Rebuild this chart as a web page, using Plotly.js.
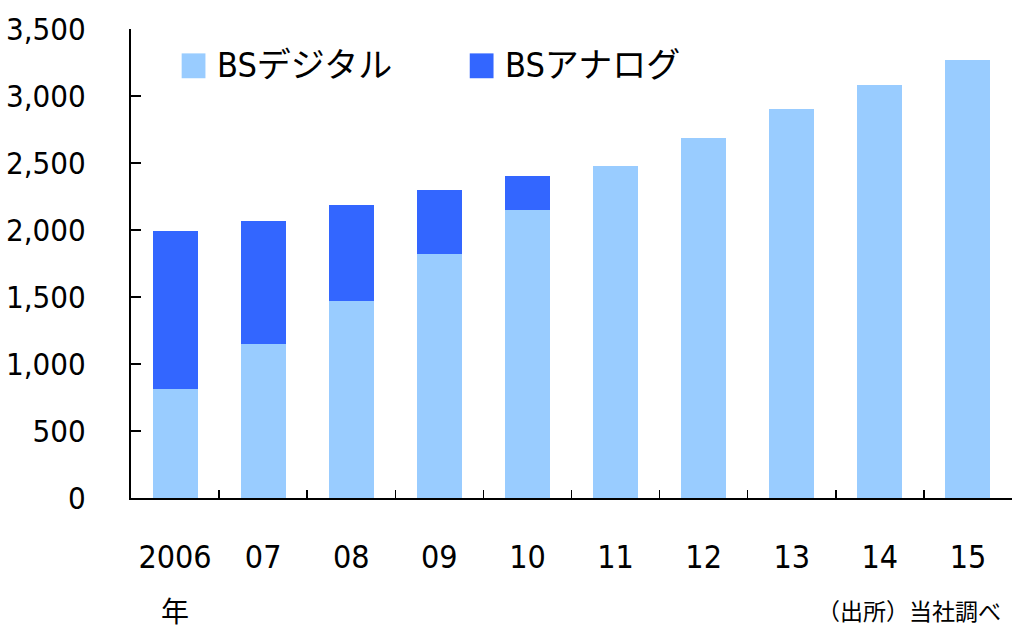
<!DOCTYPE html>
<html>
<head>
<meta charset="utf-8">
<script src="https://cdn.plot.ly/plotly-3.0.1.min.js"></script>
<style>html,body{margin:0;padding:0;background:#fff;}#chart{width:1012px;height:628px;}</style>
</head>
<body>
<div id="chart"></div>
<script>
const years = ["2006", "07", "08", "09", "10", "11", "12", "13", "14", "15"];
const bsDigital = [810, 1150, 1470, 1820, 2150, 2480, 2690, 2900, 3080, 3270];
const bsAnalog = [1180, 920, 720, 480, 250, 0, 0, 0, 0, 0];
const seriesNames = ["BSデジタル", "BSアナログ"];
const yTicks = [0, 500, 1000, 1500, 2000, 2500, 3000, 3500];

const FONT = '"DejaVu Sans Condensed", "DejaVu Sans", "Noto Sans CJK JP", sans-serif';
const LIGHT = '#99ccff', DARK = '#3366ff';

const traces = [
  {type: 'bar', name: seriesNames[0], x: years, y: bsDigital, marker: {color: LIGHT}, hoverinfo: 'x+y+name'},
  {type: 'bar', name: seriesNames[1], x: years, y: bsAnalog, marker: {color: DARK}, hoverinfo: 'x+y+name'}
];

const layout = {
  width: 1012, height: 628,
  margin: {l: 131, r: 0, t: 29, b: 130},
  barmode: 'stack', bargap: 0.49,
  showlegend: false,
  paper_bgcolor: '#fff', plot_bgcolor: '#fff',
  font: {family: FONT, color: '#000', size: 30},
  xaxis: {
    type: 'category', showline: true, linecolor: '#000', linewidth: 2,
    ticks: 'inside', ticklen: 8, tickwidth: 1.5, tickcolor: '#000', tickson: 'boundaries',
    showgrid: false, zeroline: false,
    tickfont: {family: FONT, size: 32, color: '#000'},
    ticklabelstandoff: 30
  },
  yaxis: {
    range: [0, 3500], tickvals: yTicks, tickformat: ',',
    showline: true, linecolor: '#000', linewidth: 2,
    ticks: 'inside', ticklen: 10, tickwidth: 2, tickcolor: '#000',
    showgrid: false, zeroline: false,
    tickfont: {family: FONT, size: 31, color: '#000'},
    ticklabelstandoff: 37
  },
  shapes: [
    {type: 'rect', xref: 'paper', yref: 'paper', x0: 0.0575, x1: 0.0845, y0: 0.895, y1: 0.948, fillcolor: LIGHT, line: {width: 0}},
    {type: 'rect', xref: 'paper', yref: 'paper', x0: 0.3845, x1: 0.4115, y0: 0.895, y1: 0.948, fillcolor: DARK, line: {width: 0}}
  ],
  annotations: [
    {xref: 'paper', yref: 'paper', x: 0.095, y: 0.924, xanchor: 'left', yanchor: 'middle', text: seriesNames[0], showarrow: false, font: {family: FONT, size: 34, color: '#000'}},
    {xref: 'paper', yref: 'paper', x: 0.422, y: 0.924, xanchor: 'left', yanchor: 'middle', text: seriesNames[1], showarrow: false, font: {family: FONT, size: 34, color: '#000'}},
    {xref: 'paper', yref: 'paper', x: 0.0495, y: -0.245, xanchor: 'center', yanchor: 'middle', text: '年', showarrow: false, font: {family: FONT, size: 28, color: '#000'}},
    {xref: 'paper', yref: 'paper', x: 0.99, y: -0.238, xanchor: 'right', yanchor: 'middle', text: '（出所）当社調べ', showarrow: false, font: {family: '"Noto Sans CJK JP", sans-serif', size: 23, color: '#000'}}
  ]
};

Plotly.newPlot('chart', traces, layout, {displayModeBar: false, staticPlot: true});
</script>
</body>
</html>
